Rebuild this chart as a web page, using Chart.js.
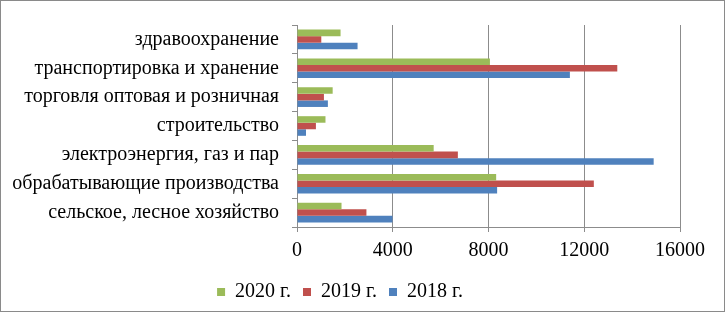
<!DOCTYPE html>
<html>
<head>
<meta charset="utf-8">
<script src="https://cdn.jsdelivr.net/npm/chart.js@4/dist/chart.umd.min.js"></script>
<style>
  body { margin: 0; background: #fff; }
  #wrap { position: relative; width: 725px; height: 313px; }
</style>
</head>
<body>
<div id="wrap"><canvas id="chart" width="725" height="313"></canvas></div>
<script>
const categories = [
  "здравоохранение",
  "транспортировка и хранение",
  "торговля оптовая и розничная",
  "строительство",
  "электроэнергия, газ и пар",
  "обрабатывающие производства",
  "сельское, лесное хозяйство",
];
const values2020 = [1820, 8060, 1490, 1190, 5710, 8320, 1860];
const values2019 = [1015, 13380, 1125, 790, 6720, 12400, 2900];
const values2018 = [2530, 11400, 1290, 375, 14900, 8360, 3990];
const xTicks = [0, 4000, 8000, 12000, 16000];

const frame = {
  id: "frame",
  afterDraw(chart) {
    const ctx = chart.ctx;
    ctx.save();
    ctx.strokeStyle = "#8a8a8a";
    ctx.lineWidth = 1;
    ctx.strokeRect(0.5, 0.5, 724, 311);
    ctx.restore();
  },
};

Chart.defaults.font.family = "Liberation Serif";
Chart.defaults.font.size = 20;
Chart.defaults.color = "#000";

const ctx = document.getElementById("chart").getContext("2d");
new Chart(ctx, {
  type: "bar",
  data: {
    labels: categories,
    datasets: [
      { label: "2020 г.", data: values2020, backgroundColor: "#9BBB59" },
      { label: "2019 г.", data: values2019, backgroundColor: "#C0504D" },
      { label: "2018 г.", data: values2018, backgroundColor: "#4F81BD" },
    ],
  },
  options: {
    indexAxis: "y",
    responsive: false,
    animation: false,
    datasets: {
      bar: { categoryPercentage: 0.68, barPercentage: 1 },
    },
    layout: { padding: { left: 0, top: 17, right: 45, bottom: 1 } },
    scales: {
      x: {
        min: 0,
        max: 16000,
        afterBuildTicks: (axis) => {
          axis.ticks = xTicks.map((v) => ({ value: v }));
        },
        grid: { color: "#8c8c8c", tickLength: 5 },
        border: { color: "#8c8c8c" },
        ticks: {
          padding: 7,
          callback: (v) => String(v),
        },
      },
      y: {
        afterFit: (axis) => { axis.width = 297; },
        grid: { drawOnChartArea: false, tickLength: 5, color: "#8c8c8c" },
        border: { color: "#8c8c8c" },
        ticks: { padding: 13 },
      },
    },
    plugins: {
      legend: {
        position: "bottom",
        labels: {
          boxWidth: 8,
          boxHeight: 8,
          padding: 12,
        },
      },
      tooltip: { enabled: false },
    },
  },
  plugins: [frame],
});
</script>
</body>
</html>
